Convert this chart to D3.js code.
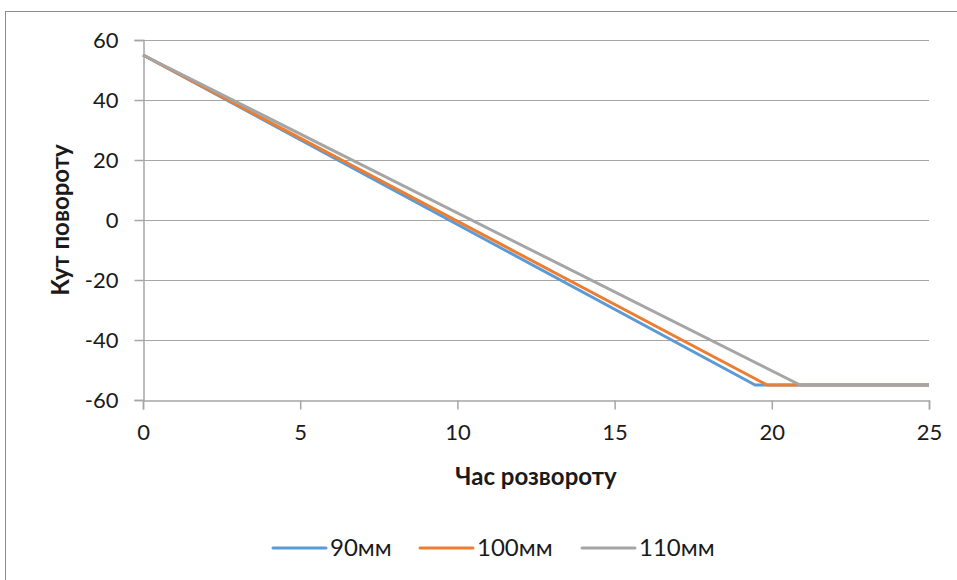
<!DOCTYPE html>
<html>
<head>
<meta charset="utf-8">
<script src="https://cdn.jsdelivr.net/npm/d3@7"></script>
<style>
  body { margin: 0; background: #fff; }
  text { font-family: Lato, "Open Sans", sans-serif; fill: #1a1a1a; }
</style>
</head>
<body>
<svg id="chart" width="957" height="580"></svg>
<script>
// turn time (s) vs. turning angle (deg), three diameters
const seriesNames = ['90мм', '100мм', '110мм'];
const seriesColors = ['#5b9bd5', '#ed7d31', '#a5a5a5'];
const time90 = [0, 19.47, 25];
const angle90 = [55, -55, -55];
const time100 = [0, 19.85, 25];
const angle100 = [55, -55, -55];
const time110 = [0, 20.9, 25];
const angle110 = [55, -55, -55];
const xTicks = [0, 5, 10, 15, 20, 25];
const yTicks = [-60, -40, -20, 0, 20, 40, 60];
const xTitle = 'Час розвороту';
const yTitle = 'Кут повороту';

const series = [
    {name: seriesNames[0], color: seriesColors[0], pts: time90.map((t, i) => [t, angle90[i]])},
    {name: seriesNames[1], color: seriesColors[1], pts: time100.map((t, i) => [t, angle100[i]])},
    {name: seriesNames[2], color: seriesColors[2], pts: time110.map((t, i) => [t, angle110[i]])}
];

const svg = d3.select('#chart');

// outer chart frame
svg.append('rect')
    .attr('x', 5.5).attr('y', 11.5)
    .attr('width', 960).attr('height', 600)
    .attr('fill', 'none')
    .attr('stroke', '#8c8c8c')
    .attr('stroke-width', 1);

const plot = {left: 143, right: 929, top: 40, bottom: 400};

const x = d3.scaleLinear().domain([0, 25]).range([plot.left, plot.right]);
const y = d3.scaleLinear().domain([-60, 60]).range([plot.bottom, plot.top]);

// horizontal gridlines
svg.append('g')
    .selectAll('line')
    .data(yTicks.filter(d => d !== -60))
    .enter()
    .append('line')
    .attr('x1', plot.left).attr('x2', plot.right)
    .attr('y1', d => y(d) + 0.5).attr('y2', d => y(d) + 0.5)
    .attr('stroke', '#a6a6a6')
    .attr('stroke-width', 1);

const fmt = d => String(d);

const xAxis = svg.append('g')
    .attr('transform', `translate(0,${plot.bottom + 0.5})`)
    .call(d3.axisBottom(x).tickValues(xTicks).tickSize(9).tickPadding(18).tickFormat(fmt));

const yAxis = svg.append('g')
    .attr('transform', `translate(${plot.left + 0.5},0)`)
    .call(d3.axisLeft(y).tickValues(yTicks).tickSize(9).tickPadding(16).tickFormat(fmt));

[xAxis, yAxis].forEach(ax => {
    ax.select('.domain').attr('stroke', '#a6a6a6').attr('stroke-width', 1.5);
    ax.selectAll('.tick line').attr('stroke', '#a6a6a6').attr('stroke-width', 1.5);
    ax.selectAll('.tick text')
        .style('font-size', '22px')
        .style('font-family', 'Lato, "Open Sans", sans-serif')
        .attr('fill', '#1a1a1a');
});
xAxis.selectAll('.tick text').attr('dy', '0.55em');

const line = d3.line()
    .x(d => x(d[0]))
    .y(d => y(d[1]));

svg.append('g')
    .selectAll('path')
    .data(series)
    .enter()
    .append('path')
    .attr('d', d => line(d.pts))
    .attr('fill', 'none')
    .attr('stroke', d => d.color)
    .attr('stroke-width', 3)
    .attr('stroke-linejoin', 'round');

// axis titles
svg.append('text')
    .attr('x', 536)
    .attr('y', 485)
    .attr('text-anchor', 'middle')
    .style('font-size', '24px')
    .style('font-weight', 'bold')
    .text(xTitle);

svg.append('text')
    .attr('transform', `translate(69,${(plot.top + plot.bottom) / 2}) rotate(-90)`)
    .attr('text-anchor', 'middle')
    .style('font-size', '24px')
    .style('font-weight', 'bold')
    .text(yTitle);

// legend
const legendX = [273, 420, 582];
const legend = svg.append('g')
    .selectAll('g')
    .data(series)
    .enter()
    .append('g')
    .attr('transform', (d, i) => `translate(${legendX[i]},548)`);

legend.append('line')
    .attr('x1', 0).attr('x2', 53)
    .attr('stroke', d => d.color)
    .attr('stroke-width', 3)
    .attr('stroke-linecap', 'round');

legend.append('text')
    .attr('x', 57)
    .attr('y', 8)
    .style('font-size', '24px')
    .text(d => d.name);
</script>
</body>
</html>
